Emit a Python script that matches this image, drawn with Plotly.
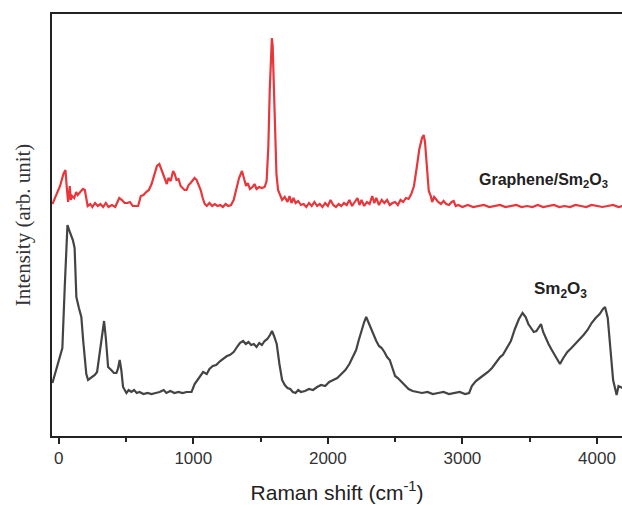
import plotly.graph_objects as go

# Sm2O3 (gray) spectrum
gray_x = [-47, -20, 10, 27, 45, 65, 85, 105, 118, 131, 150, 168, 182, 193, 205, 218, 240, 268, 285, 300,
          318, 337, 350, 367, 390, 410, 429, 440, 453, 465, 478, 503, 520, 540, 560, 580, 600, 630, 660, 690,
          720, 750, 780, 800, 830, 860, 890, 920, 950, 987, 1010, 1040, 1073, 1100, 1120, 1145, 1170, 1200, 1230, 1250,
          1271, 1300, 1320, 1346, 1370, 1390, 1410, 1430, 1450, 1470, 1490, 1510, 1530, 1550, 1570, 1585, 1600, 1620, 1640, 1660,
          1680, 1700, 1720, 1740, 1760, 1780, 1800, 1830, 1860, 1890, 1920, 1950, 1980, 2010, 2040, 2070, 2100, 2130, 2160, 2190,
          2210, 2230, 2250, 2270, 2285, 2300, 2320, 2340, 2360, 2380, 2400, 2420, 2440, 2460, 2480, 2500, 2520, 2540, 2560, 2580,
          2600, 2630, 2660, 2700, 2740, 2780, 2820, 2860, 2900, 2940, 2980, 3020, 3050, 3070, 3100, 3130, 3160, 3190, 3220, 3250,
          3280, 3300, 3330, 3360, 3390, 3420, 3447, 3470, 3490, 3510, 3530, 3550, 3570, 3584, 3600, 3620, 3640, 3660, 3680, 3700,
          3725, 3750, 3780, 3810, 3840, 3870, 3900, 3930, 3960, 3990, 4020, 4045, 4060, 4080, 4100, 4120, 4146, 4160, 4190]
gray_y = [53, 66, 78, 88, 150, 211, 203, 196, 188, 139, 128, 119, 95, 76, 62, 56, 58, 61, 64, 79,
          92, 115, 98, 69, 66, 63, 63, 67, 76, 66, 49, 43, 46, 44, 46, 43, 44, 42, 43, 42,
          43, 44, 46, 43, 45, 43, 44, 43, 44, 44, 52, 58, 64, 62, 67, 70, 71, 75, 78, 80,
          81, 84, 88, 93, 95, 92, 94, 91, 92, 89, 93, 91, 95, 97, 101, 105, 100, 92, 72, 56,
          51, 48, 47, 44, 43, 46, 44, 45, 47, 46, 49, 51, 50, 54, 56, 58, 62, 66, 72, 80,
          86, 96, 106, 114, 119, 114, 107, 101, 95, 90, 88, 84, 79, 76, 68, 60, 58, 55, 52, 50,
          47, 45, 44, 43, 44, 42, 43, 44, 42, 43, 44, 42, 43, 50, 55, 58, 61, 64, 68, 74,
          79, 81, 88, 95, 107, 117, 123, 119, 112, 108, 104, 105, 110, 112, 104, 97, 92, 87, 82, 77,
          72, 78, 84, 88, 92, 96, 101, 106, 113, 118, 122, 127, 129, 118, 85, 56, 41, 50, 48]

# Graphene/Sm2O3 (red) spectrum
red_x = [-47, -20, 10, 35, 50, 62, 70, 82, 90, 100, 115, 130, 141, 160, 180, 194, 205, 215, 235, 250,
         270, 290, 310, 330, 350, 370, 395, 420, 450, 470, 490, 510, 530, 550, 570, 590, 610, 630, 650, 670,
         690, 710, 730, 748, 760, 775, 790, 803, 815, 832, 850, 862, 875, 890, 906, 920, 935, 950, 965, 980,
         995, 1010, 1025, 1040, 1055, 1070, 1085, 1100, 1120, 1140, 1160, 1180, 1200, 1220, 1240, 1260, 1280, 1300, 1318, 1340,
         1362, 1378, 1392, 1405, 1421, 1440, 1455, 1470, 1490, 1510, 1530, 1545, 1558, 1568, 1578, 1584, 1590, 1598, 1608, 1618,
         1630, 1645, 1660, 1680, 1700, 1715, 1730, 1745, 1760, 1780, 1800, 1820, 1840, 1860, 1880, 1900, 1920, 1940, 1960, 1980,
         2000, 2020, 2040, 2060, 2080, 2100, 2120, 2140, 2160, 2180, 2200, 2220, 2235, 2250, 2270, 2290, 2310, 2330, 2345, 2360,
         2380, 2400, 2420, 2440, 2460, 2480, 2500, 2520, 2540, 2560, 2580, 2600, 2620, 2640, 2660, 2680, 2700, 2712, 2722, 2735,
         2750, 2765, 2775, 2790, 2805, 2820, 2840, 2860, 2880, 2900, 2920, 2935, 2950, 2970, 3000, 3040, 3080, 3120, 3160, 3200,
         3240, 3280, 3320, 3360, 3400, 3440, 3480, 3520, 3560, 3600, 3640, 3680, 3720, 3760, 3800, 3840, 3880, 3920, 3960, 4000,
         4040, 4080, 4120, 4160, 4190]
red_y = [232, 240, 250, 262, 266, 245, 234, 250, 236, 240, 238, 244, 241, 244, 247, 246, 235, 230, 232, 229,
         233, 230, 232, 229, 233, 229, 231, 229, 238, 236, 233, 233, 234, 230, 230, 230, 240, 241, 244, 246,
         252, 262, 270, 272, 268, 262, 256, 252, 258, 255, 265, 262, 256, 257, 250, 248, 246, 246, 251, 253,
         256, 258, 256, 251, 246, 238, 232, 230, 233, 230, 232, 230, 231, 229, 232, 230, 231, 236, 245, 258,
         265, 258, 250, 253, 247, 249, 252, 247, 249, 248, 249, 255, 290, 345, 390, 398, 390, 350, 300, 262,
         246, 240, 236, 239, 234, 240, 233, 238, 233, 235, 231, 232, 229, 233, 230, 234, 230, 232, 229, 233,
         230, 236, 231, 229, 232, 230, 233, 231, 236, 230, 234, 238, 231, 236, 230, 234, 232, 240, 233, 238,
         231, 236, 233, 236, 231, 233, 234, 231, 236, 234, 238, 237, 242, 250, 268, 287, 298, 301, 294, 270,
         245, 240, 234, 239, 236, 234, 232, 235, 232, 231, 234, 235, 230, 231, 229, 231, 229, 230, 231, 229,
         230, 231, 229, 230, 231, 229, 230, 229, 231, 229, 230, 231, 229, 230, 229, 231, 230, 229, 231, 230,
         229, 230, 231, 229, 230]

x_tickvals = [0, 1000, 2000, 3000, 4000]
x_ticktext = ["0", "1000", "2000", "3000", "4000"]

fig = go.Figure()
fig.add_trace(go.Scatter(x=red_x, y=red_y, mode="lines",
                         line=dict(color="#e8363b", width=2.2), showlegend=False))
fig.add_trace(go.Scatter(x=gray_x, y=gray_y, mode="lines",
                         line=dict(color="#444444", width=2.2), showlegend=False))

fig.add_annotation(x=3600, y=256, text="<b>Graphene/Sm<sub>2</sub>O<sub>3</sub></b>",
                   showarrow=False, font=dict(family="Arial, Liberation Sans", size=16, color="#222"))
fig.add_annotation(x=3730, y=146, text="<b>Sm<sub>2</sub>O<sub>3</sub></b>",
                   showarrow=False, font=dict(family="Arial, Liberation Sans", size=17, color="#222"))

fig.update_layout(
    width=622, height=505,
    margin=dict(l=52, r=0, t=14, b=69),
    paper_bgcolor="white", plot_bgcolor="white",
    xaxis=dict(range=[-50, 4186], showgrid=False, zeroline=False, automargin=False,
               showline=True, linecolor="#222", linewidth=2, mirror=True,
               tickvals=x_tickvals, ticktext=x_ticktext,
               ticks="outside", ticklen=6, tickwidth=1.5, tickcolor="#222",
               minor=dict(dtick=500, tick0=0, ticks="outside", ticklen=4, tickwidth=1.5, tickcolor="#222"),
               tickfont=dict(family="Arial, Liberation Sans", size=17, color="#333"),
               title=dict(text="Raman shift (cm<sup>-1</sup>)", standoff=18,
                          font=dict(family="Arial, Liberation Sans", size=21, color="#222"))),
    yaxis=dict(range=[0, 422], showgrid=False, zeroline=False, automargin=False,
               showline=True, linecolor="#222", linewidth=2,
               showticklabels=False, ticks="",
               title=dict(text="Intensity (arb. unit)", standoff=14,
                          font=dict(family="Liberation Serif, Times New Roman", size=21, color="#333"))),
)

fig.write_html("out.html", config={"displayModeBar": False},
               post_script="document.body.style.margin='0';document.body.style.overflow='hidden';")
